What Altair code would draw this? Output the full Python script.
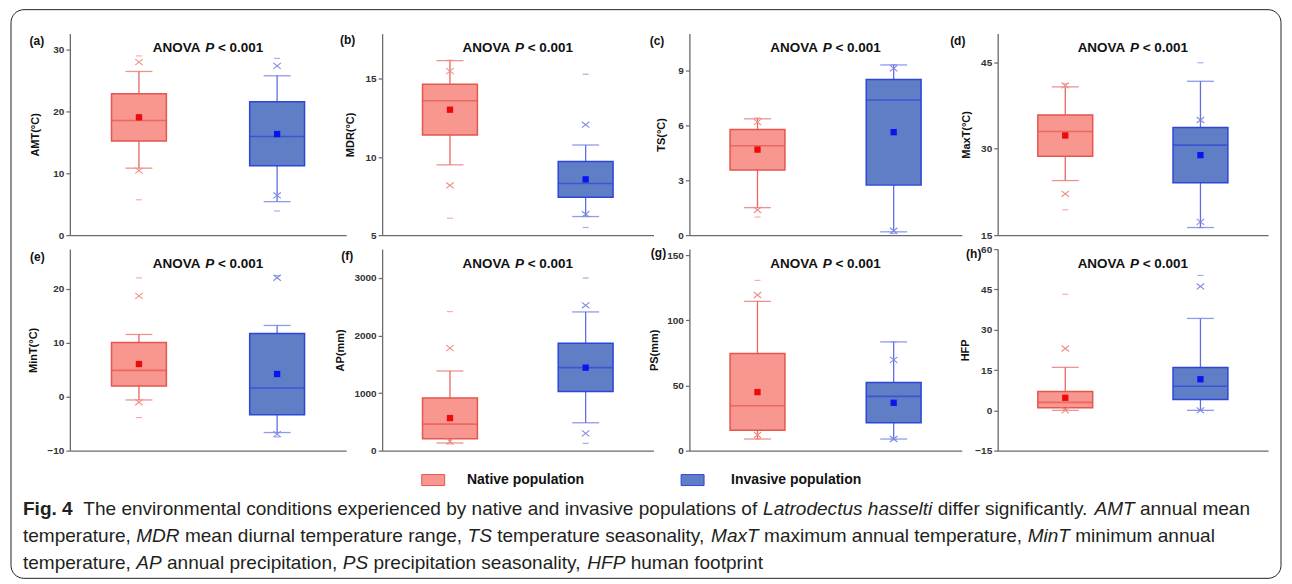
import altair as alt
import pandas as pd

# ---------------- data ----------------
groups = ["Native population", "Invasive population"]
panel_letters = ["(a)", "(b)", "(c)", "(d)", "(e)", "(f)", "(g)", "(h)"]
y_titles = ["AMT(°C)", "MDR(°C)", "TS(°C)", "MaxT(°C)", "MinT(°C)", "AP(mm)", "PS(mm)", "HFP"]
y_domains = [[0, 32.5], [5, 17.9], [0, 11], [15, 50], [-10, 27.3], [0, 3500], [0, 154.6], [-15, 60]]
y_ticks = [[0, 10, 20, 30], [5, 10, 15], [0, 3, 6, 9], [15, 30, 45],
           [-10, 0, 10, 20], [0, 1000, 2000, 3000], [0, 50, 100, 150], [-15, 0, 15, 30, 45, 60]]

# each entry: [native, invasive]
q1 = [[15.2, 11.2], [11.41, 7.42], [3.56, 2.73], [28.68, 24.08], [1.97, -3.38], [207, 1026], [15.6, 21.4], [1.0, 4.06]]
q3 = [[22.8, 21.5], [14.66, 9.71], [5.77, 8.5], [35.86, 33.68], [10.03, 11.69], [916, 1867], [74.5, 52.3], [7.0, 15.9]]
median = [[18.5, 15.9], [13.6, 8.31], [4.88, 7.38], [32.99, 30.63], [4.86, 1.6], [461, 1441], [34.4, 41.6], [2.95, 8.98]]
mean = [[19.0, 16.3], [13.03, 8.57], [4.67, 5.62], [32.3, 28.9], [6.03, 4.18], [565, 1441], [44.9, 36.7], [4.67, 11.56]]
whisker_low = [[10.8, 5.4], [9.5, 6.19], [1.5, 0.18], [24.48, 16.32], [-0.62, -6.65], [133, 484], [8.9, 8.9], [0, 0]]
whisker_high = [[26.4, 25.7], [16.17, 10.77], [6.35, 9.29], [40.75, 41.72], [11.5, 13.17], [1383, 2409], [114.5, 83.4], [16.0, 34.2]]
pct_1 = [[10.4, 6.4], [8.18, 6.34], [1.37, 0.24], [22.18, 17.3], [-1.05, -6.95], [161, 300], [12.0, 8.9], [0, 0]]
pct_99 = [[27.9, 27.3], [15.5, 12.07], [6.17, 9.1], [41.0, 35.0], [18.65, 22.0], [1781, 2524], [119.4, 69.6], [23.0, 46.1]]
minimum = [[5.7, 3.9], [6.08, 5.49], [0.99, 0.09], [19.4, 16.3], [-3.88, -7.45], [115, 127], [8.9, 8.4], [0, 0]]
maximum = [[28.9, 28.5], [16.2, 15.3], [6.4, 9.3], [41.3, 44.94], [21.97, 22.4], [2415, 2997], [130.6, 83.4], [43.2, 50.2]]

anova_parts = ["ANOVA ", "P", " < 0.001"]

caption_lines = [
    [("Fig. 4", "bold"), ("  The environmental conditions experienced by native and invasive populations of ", "normal"),
     ("Latrodectus hasselti", "italic"), (" differ significantly. ", "normal"), ("AMT", "italic"), (" annual mean", "normal")],
    [("temperature, ", "normal"), ("MDR", "italic"), (" mean diurnal temperature range, ", "normal"), ("TS", "italic"),
     (" temperature seasonality, ", "normal"), ("MaxT", "italic"), (" maximum annual temperature, ", "normal"),
     ("MinT", "italic"), (" minimum annual", "normal")],
    [("temperature, ", "normal"), ("AP", "italic"), (" annual precipitation, ", "normal"), ("PS", "italic"),
     (" precipitation seasonality, ", "normal"), ("HFP", "italic"), (" human footprint", "normal")],
]

# ---------------- style / layout ----------------
FONT = "Liberation Sans"
CAP_FONT = "Liberation Sans"
AXIS_C = "#6a6a6a"
NATIVE = dict(fill="#F7978F", stroke="#E4564E", whisker="#E5675F", mean="#EE0A0A", marker="#EE8E88")
INVASIVE = dict(fill="#5F7EC6", stroke="#2E46D6", whisker="#5F70E2", mean="#0A14EE", marker="#8089E6")

H = 202
WIDTHS = [277, 272, 273, 271]
HSP = 36
VSP = 14
title_dx = [-34, -32, -28, -31, -36, -42, -35, -32]
letter_dx = [-33, -34.5, -32.5, -40, -32.5, -35, -31, -24]
letter_dy = [7.5, 6, 7, 7, 7.5, 6.5, 4.3, 5.3]

_up = "ABCDEFGHIJKLMNOPQRSTUVWXYZ"
_lo = "abcdefghijklmnopqrstuvwxyz"
_pn = " ,.-()<0123456789"
_pnw = [278, 278, 278, 333, 333, 333, 584] + [556] * 10
REG_W = dict(zip(_up, [667, 667, 722, 722, 667, 611, 778, 722, 278, 500, 667, 556, 833, 722, 778, 667, 778, 722, 667, 611, 722, 667, 944, 667, 667, 611]))
REG_W.update(zip(_lo, [556, 556, 500, 556, 556, 278, 556, 556, 222, 222, 500, 222, 833, 556, 556, 556, 556, 333, 500, 278, 556, 500, 722, 500, 500, 500]))
REG_W.update(zip(_pn, _pnw))
BOLD_W = dict(zip(_up, [722, 722, 722, 722, 667, 611, 778, 722, 278, 556, 722, 611, 833, 722, 778, 667, 778, 722, 667, 611, 722, 667, 944, 667, 667, 611]))
BOLD_W.update(zip(_lo, [556, 611, 556, 611, 556, 333, 611, 611, 278, 278, 556, 278, 889, 611, 611, 611, 611, 389, 556, 333, 611, 556, 778, 556, 556, 500]))
BOLD_W.update(zip(_pn, _pnw))


def tw(s, table, size):
    return sum(table.get(c, 556) for c in s) / 1000.0 * size


def by_group(key):
    return alt.condition(alt.datum.group == groups[0], alt.value(NATIVE[key]), alt.value(INVASIVE[key]))


XPATH = "M-1,-0.8L1,0.8M-1,0.8L1,-0.8"


def footer_layers():
    """Legend, caption and outer frame, positioned relative to panel (e)."""
    dy = H + VSP  # footer area starts one row below panel (e)'s top
    one = pd.DataFrame({"a": [0]})
    out = [
        alt.Chart(one).mark_rect(filled=False, stroke="#222", strokeWidth=1, cornerRadius=13).encode(
            x=alt.value(-59), x2=alt.value(1214), y=alt.value(-240), y2=alt.value(330))
    ]
    leg_swatch_x = [352.7, 612.7]
    leg_text_x = [398, 662.7]
    for g, pal, sx, txx in zip(groups, [NATIVE, INVASIVE], leg_swatch_x, leg_text_x):
        out.append(
            alt.Chart(one).mark_rect(fill=pal["fill"], stroke=pal["stroke"], strokeWidth=1).encode(
                x=alt.value(sx), x2=alt.value(sx + 23), y=alt.value(dy + 10), y2=alt.value(dy + 21)))
        out.append(
            alt.Chart(pd.DataFrame({"t": [g]})).mark_text(
                font=FONT, fontWeight="bold", fontSize=14, align="left", baseline="middle", color="#111"
            ).encode(text="t:N", x=alt.value(txx), y=alt.value(dy + 15.5)))

    line1_units = sum(sum((BOLD_W if st == "bold" else REG_W).get(c, 556) for c in s)
                      for s, st in caption_lines[0])
    cap_fs = 1230.0 / (line1_units / 1000.0)
    rows = []
    baselines = [dy + 51, dy + 78, dy + 105]
    for li, line in enumerate(caption_lines):
        xpos = -47.0
        for s, st in line:
            table = BOLD_W if st == "bold" else REG_W
            lead = len(s) - len(s.lstrip(" "))
            rows.append({"t": s.strip(" "), "x": xpos + tw(" " * lead, table, cap_fs),
                         "y": baselines[li], "style": st})
            xpos += tw(s, table, cap_fs)
    cap_df = pd.DataFrame(rows)
    for st in ["normal", "italic", "bold"]:
        out.append(
            alt.Chart(cap_df).transform_filter(alt.datum.style == st).mark_text(
                font=CAP_FONT, fontSize=cap_fs, fontWeight="bold" if st == "bold" else "normal",
                fontStyle="italic" if st == "italic" else "normal",
                align="left", baseline="alphabetic", color="#231f20"
            ).encode(text="t:N", x=alt.X("x:Q", scale=None, axis=None),
                     y=alt.Y("y:Q", scale=None, axis=None))
        )
    return out


def make_panel(i, W, extra=None):
    df = pd.DataFrame({
        "group": groups,
        "q1": q1[i], "q3": q3[i], "med": median[i], "mean": mean[i],
        "lo": whisker_low[i], "hi": whisker_high[i],
        "p1": pct_1[i], "p99": pct_99[i], "mn": minimum[i], "mx": maximum[i],
    })
    x = alt.X("group:N", scale=alt.Scale(type="point", padding=0.5, domain=groups),
              axis=alt.Axis(labels=False, ticks=False, title=None, grid=False,
                            domainColor=AXIS_C, domainWidth=1.3))
    ysc = alt.Scale(domain=y_domains[i], nice=False, zero=False)
    yax = alt.Axis(values=y_ticks[i], format="d", grid=False, domainColor=AXIS_C, domainWidth=1.3,
                   tickColor=AXIS_C, tickWidth=1.2, tickSize=4,
                   labelFont=FONT, labelFontWeight="bold", labelFontSize=10, labelColor="#333",
                   labelPadding=2,
                   titleFont=FONT, titleFontWeight="bold", titleFontSize=11, titleColor="#111",
                   titleX=title_dx[i], titleY=H / 2, titleAngle=270, titleAlign="center",
                   titleBaseline="middle")

    def Y(f):
        return alt.Y(f + ":Q", scale=ysc, axis=yax, title=y_titles[i])

    base = alt.Chart(df)
    layers = [
        base.mark_rule(strokeWidth=1.3).encode(x=x, y=Y("lo"), y2=alt.Y2("q1"), color=by_group("whisker")),
        base.mark_rule(strokeWidth=1.3).encode(x=x, y=Y("q3"), y2=alt.Y2("hi"), color=by_group("whisker")),
        base.mark_tick(size=27, thickness=1.3).encode(x=x, y=Y("lo"), color=by_group("whisker")),
        base.mark_tick(size=27, thickness=1.3).encode(x=x, y=Y("hi"), color=by_group("whisker")),
        base.mark_bar(width=55, strokeWidth=1.5).encode(x=x, y=Y("q1"), y2=alt.Y2("q3"),
                                                        fill=by_group("fill"), stroke=by_group("stroke")),
        base.mark_tick(size=55, thickness=1.6).encode(x=x, y=Y("med"), color=by_group("stroke")),
        base.mark_square(size=40, opacity=1).encode(x=x, y=Y("mean"), color=by_group("mean")),
        base.transform_fold(["p1", "p99"], as_=["k", "v"]).mark_point(
            shape=XPATH, size=56, filled=False, strokeWidth=1.1, opacity=1
        ).encode(x=x, y=Y("v"), color=by_group("marker")),
        base.transform_fold(["mn", "mx"], as_=["k", "v"]).mark_tick(size=6, thickness=1.2).encode(
            x=x, y=Y("v"), color=by_group("marker")),
    ]
    layers.append(
        alt.Chart(pd.DataFrame({"t": [panel_letters[i]]})).mark_text(
            font=FONT, fontWeight="bold", fontSize=12, align="center", baseline="middle", color="#111"
        ).encode(text="t:N", x=alt.value(letter_dx[i]), y=alt.value(letter_dy[i]))
    )
    fs = 13.5
    widths = [tw(p, BOLD_W, fs) for p in anova_parts]
    start = W / 2 - sum(widths) / 2
    offs = [start, start + widths[0], start + widths[0] + widths[1] + tw(" ", BOLD_W, fs)]
    styles = ["normal", "italic", "normal"]
    for k, part in enumerate(anova_parts):
        layers.append(
            alt.Chart(pd.DataFrame({"t": [part.strip()]})).mark_text(
                font=FONT, fontWeight="bold", fontStyle=styles[k], fontSize=fs, align="left",
                baseline="middle", color="#111"
            ).encode(text="t:N", x=alt.value(offs[k]), y=alt.value(14.7))
        )
    if extra:
        layers.extend(extra)
    return alt.layer(*layers).properties(width=W, height=H)


panels = []
for i in range(8):
    extra = footer_layers() if i == 4 else None
    panels.append(make_panel(i, WIDTHS[i % 4], extra))

chart = alt.concat(*panels, columns=4, spacing={"row": VSP, "column": HSP}, bounds="flush").properties(
    padding={"left": 2, "top": 0, "right": 2, "bottom": 0}
).configure_view(strokeWidth=0)

chart.save("out.html", embed_options={"renderer": "svg", "actions": False})
